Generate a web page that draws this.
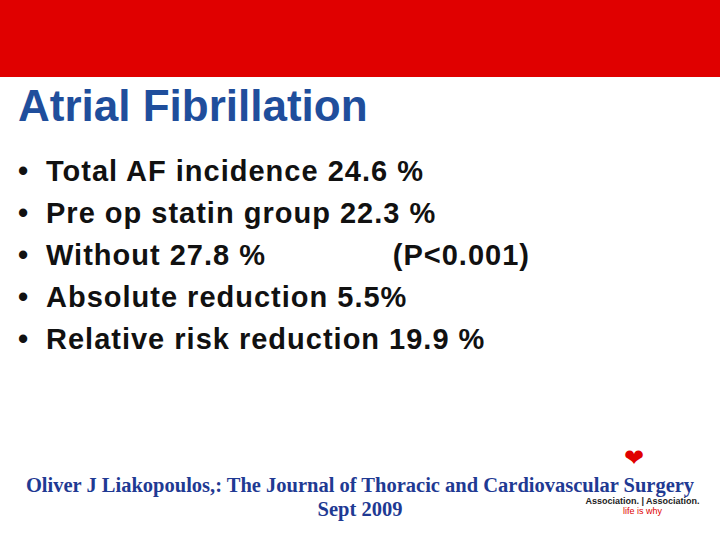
<!DOCTYPE html>
<html><head><meta charset="utf-8">
<script src="https://cdn.jsdelivr.net/npm/chart.js@4/dist/chart.umd.min.js"></script>
<style>
body{margin:0;width:720px;height:540px;overflow:hidden;background:#fff;font-family:"Liberation Sans",Arial,sans-serif;position:relative}
#band{position:absolute;left:0;top:0;width:720px;height:77px;background:#e00000}
#title{position:absolute;left:18px;top:81px;font-size:44px;font-weight:bold;color:#1f4e9c}
ul{position:absolute;left:18px;top:150px;margin:0;padding:0;list-style:none;font-size:29px;font-weight:bold;color:#111;letter-spacing:1px}
li{height:42px;line-height:42px}
li span{display:inline-block;width:28px}
#cite{position:absolute;left:0;width:720px;top:473px;text-align:center;font-family:"Liberation Serif",serif;font-weight:bold;font-size:20.5px;color:#1f3a93;line-height:24px}
#logo{position:absolute;left:585px;top:496px;font-size:9px;font-weight:bold;color:#222;line-height:10px;text-align:center;width:115px}
#heart{position:absolute;left:624px;top:444px;color:#e00000;font-size:24px;line-height:28px}
</style></head><body>
<div id="band"></div>
<div id="title">Atrial Fibrillation</div>
<ul id="list"></ul>
<div id="cite">Oliver J Liakopoulos,: The Journal of Thoracic and Cardiovascular Surgery<br>Sept 2009</div>
<div id="heart">&#10084;</div>
<div id="logo">Association. | Association.<br><span style="color:#e00000;font-weight:normal">life is why</span></div>
<script>
const bullets = ['Total AF incidence 24.6 %', 'Pre op statin group 22.3 %',
  'Without 27.8 %\u00a0\u00a0\u00a0\u00a0\u00a0\u00a0\u00a0\u00a0\u00a0\u00a0\u00a0\u00a0\u00a0\u00a0(P<0.001)',
  'Absolute reduction 5.5%', 'Relative risk reduction 19.9 %'];
const ul = document.getElementById('list');
bullets.forEach(b => {
  const li = document.createElement('li');
  li.innerHTML = '<span>•</span>';
  li.appendChild(document.createTextNode(b));
  ul.appendChild(li);
});
</script>
</body></html>
